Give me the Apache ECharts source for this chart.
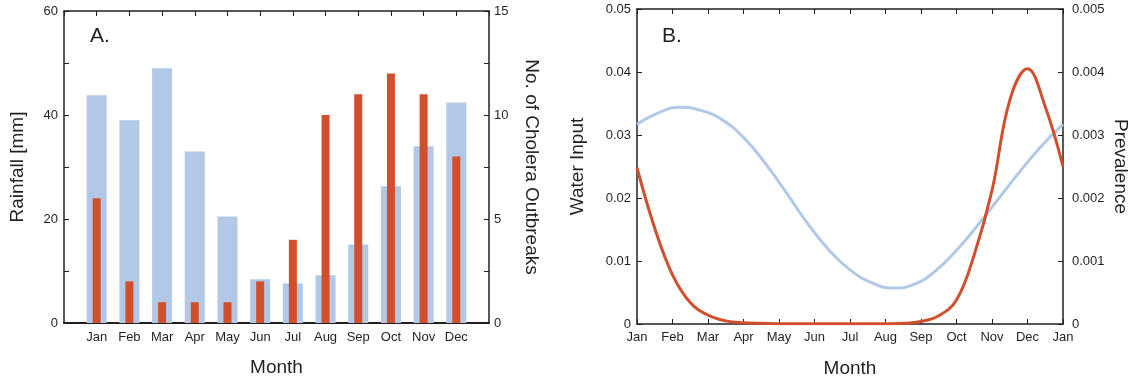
<!DOCTYPE html>
<html>
<head>
<meta charset="utf-8">
<script src="https://cdn.jsdelivr.net/npm/echarts@6/dist/echarts.min.js"></script>
<style>html,body{margin:0;padding:0;background:#fff}#c{width:1133px;height:383px}</style>
</head>
<body>
<div id="c"></div>
<script>
// ---- data ----
var months = ['Jan','Feb','Mar','Apr','May','Jun','Jul','Aug','Sep','Oct','Nov','Dec'];
var rainfall = [43.8, 39.0, 49.0, 33.0, 20.5, 8.4, 7.6, 9.2, 15.1, 26.3, 34.0, 42.4];
var outbreaks = [6, 2, 1, 1, 1, 2, 4, 10, 11, 12, 11, 8];
// panel B curves (position 0 = Jan, 12 = next Jan)
var waterX = [0,0.6,1.2,1.8,2.4,3.0,3.6,4.2,4.8,5.4,6.0,6.6,7.2,7.8,8.4,9.0,9.6,10.2,10.8,11.4,12];
var waterInput = [0.0317,0.0335,0.0344,0.0339,0.0324,0.0296,0.0256,0.0209,0.0160,0.0118,0.0086,
  0.0066,0.0057,0.0063,0.0084,0.0117,0.0157,0.0200,0.0243,0.0283,0.0317];
var prevX = [0,0.5,1,1.5,2,2.5,3,3.5,4,4.5,5,5.5,6,6.5,7,7.5,8,8.5,9,9.5,10,10.5,11,11.5,12];
var prevalence = [0.00248,0.00152,0.00078,0.00034,0.00014,0.00005,0.00002,0.00001,0.000005,0.000003,0.000003,0.000003,
  0.000003,0.000003,0.000003,0.00001,0.00004,0.00013,0.00038,0.00110,0.00212,0.00355,0.00405,0.00345,0.00250];
var rainTicks = [0, 20, 40, 60];
var outbreakTicks = [0, 5, 10, 15];

// ---- chart ----
var FONT = "'Liberation Sans', Arial, sans-serif";
var TXT = '#231f20';
var BLUE = '#b1c8e6';
var RED = '#d24f2e';
var lineStyle = {color: TXT, width: 1.5};
var tickIn = {show: true, inside: true, length: 5, lineStyle: {color: TXT, width: 1}};
var lbl = {color: TXT, fontFamily: FONT, fontSize: 13};
var nameStyle = {color: TXT, fontFamily: FONT, fontSize: 19};

var bTicks = months.concat(['Jan']);
function pairs(xs, ys){ return xs.map(function(x, i){ return [x, ys[i]]; }); }

var chart = echarts.init(document.getElementById('c'), null, {renderer: 'canvas'});
chart.setOption({
  animation: false,
  backgroundColor: '#fff',
  grid: [
    {left: 64, top: 11, width: 425, height: 312},
    {left: 637, top: 9, width: 426, height: 315}
  ],
  xAxis: [
    {gridIndex: 0, type: 'value', min: 0, max: 13, interval: 1, position: 'bottom',
     axisLine: {show: true, onZero: false, lineStyle: {color: TXT, width: 2}},
     axisTick: {show: false}, splitLine: {show: false},
     axisLabel: Object.assign({}, lbl, {margin: 8, formatter: function(v){ return (v>=1 && v<=12) ? months[v-1] : ''; }}),
     name: 'Month', nameLocation: 'middle', nameGap: 35, nameTextStyle: nameStyle},
    {gridIndex: 0, type: 'value', min: 0, max: 13, interval: 1, position: 'top',
     axisLine: {show: true, onZero: false, lineStyle: lineStyle},
     axisTick: tickIn, axisLabel: {show: false}, splitLine: {show: false}},
    {gridIndex: 1, type: 'value', min: 0, max: 12, interval: 1, position: 'bottom',
     axisLine: {show: true, onZero: false, lineStyle: lineStyle},
     axisTick: tickIn, splitLine: {show: false},
     axisLabel: Object.assign({}, lbl, {margin: 7, showMinLabel: true, showMaxLabel: true, formatter: function(v){ return bTicks[v]; }}),
     name: 'Month', nameLocation: 'middle', nameGap: 35, nameTextStyle: nameStyle},
    {gridIndex: 1, type: 'value', min: 0, max: 12, interval: 1, position: 'top',
     axisLine: {show: true, onZero: false, lineStyle: lineStyle},
     axisTick: tickIn, axisLabel: {show: false}, splitLine: {show: false}}
  ],
  yAxis: [
    {gridIndex: 0, type: 'value', min: 0, max: 60, interval: 10, position: 'left',
     axisLine: {show: true, onZero: false, lineStyle: lineStyle},
     axisTick: tickIn, splitLine: {show: false},
     axisLabel: Object.assign({}, lbl, {margin: 6, formatter: function(v){ return rainTicks.indexOf(v) >= 0 ? String(v) : ''; }}),
     name: 'Rainfall [mm]', nameLocation: 'middle', nameGap: 37, nameTextStyle: nameStyle},
    {gridIndex: 0, type: 'value', min: 0, max: 15, interval: 2.5, position: 'right',
     axisLine: {show: true, onZero: false, lineStyle: lineStyle},
     axisTick: tickIn, splitLine: {show: false},
     axisLabel: Object.assign({}, lbl, {margin: 5, formatter: function(v){ return outbreakTicks.indexOf(v) >= 0 ? String(v) : ''; }}),
     name: 'No. of Cholera Outbreaks', nameLocation: 'middle', nameGap: 33, nameRotate: -90, nameTextStyle: nameStyle},
    {gridIndex: 1, type: 'value', min: 0, max: 0.05, interval: 0.01, position: 'left',
     axisLine: {show: true, onZero: false, lineStyle: lineStyle},
     axisTick: tickIn, splitLine: {show: false},
     axisLabel: Object.assign({}, lbl, {margin: 6, formatter: function(v){ return v === 0 ? '0' : v.toFixed(2); }}),
     name: 'Water Input', nameLocation: 'middle', nameGap: 50, nameTextStyle: nameStyle},
    {gridIndex: 1, type: 'value', min: 0, max: 0.005, interval: 0.001, position: 'right',
     axisLine: {show: true, onZero: false, lineStyle: lineStyle},
     axisTick: tickIn, splitLine: {show: false},
     axisLabel: Object.assign({}, lbl, {margin: 9, formatter: function(v){ return v === 0 ? '0' : v.toFixed(3); }}),
     name: 'Prevalence', nameLocation: 'middle', nameGap: 48, nameRotate: -90, nameTextStyle: nameStyle}
  ],
  series: [
    {type: 'bar', xAxisIndex: 0, yAxisIndex: 0, barWidth: 20, itemStyle: {color: BLUE},
     data: rainfall.map(function(v, i){ return [i + 1, v]; }), z: 2},
    {type: 'bar', xAxisIndex: 1, yAxisIndex: 1, barWidth: 8, itemStyle: {color: RED},
     data: outbreaks.map(function(v, i){ return [i + 1, v]; }), z: 3},
    {type: 'line', xAxisIndex: 2, yAxisIndex: 2, smooth: 0.5, showSymbol: false,
     lineStyle: {color: BLUE, width: 3}, data: pairs(waterX, waterInput), z: 2},
    {type: 'line', xAxisIndex: 3, yAxisIndex: 3, smooth: 0.4, showSymbol: false,
     lineStyle: {color: RED, width: 3}, data: pairs(prevX, prevalence), z: 3}
  ],
  graphic: [
    {type: 'text', left: 90, top: 26, style: {text: 'A.', fill: TXT, font: "21px " + FONT}},
    {type: 'text', left: 662, top: 26, style: {text: 'B.', fill: TXT, font: "21px " + FONT}}
  ]
});
</script>
</body>
</html>
